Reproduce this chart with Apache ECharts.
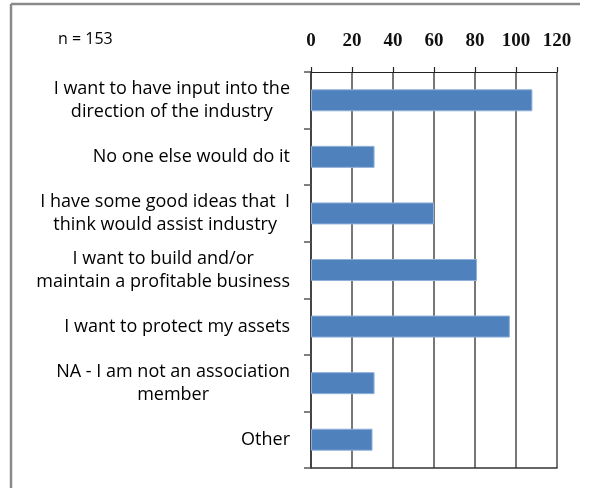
<!DOCTYPE html>
<html>
<head>
<meta charset="utf-8">
<script src="https://cdn.jsdelivr.net/npm/echarts@6/dist/echarts.min.js"></script>
<style>
  html, body { margin: 0; padding: 0; background: #fff; }
  #chart { width: 589px; height: 488px; }
</style>
</head>
<body>
<div id="chart"></div>
<script>
// Reasons given for taking part (count of respondents)
const categories = [
  'I want to have input into the\ndirection of the industry',
  'No one else would do it',
  'I have some good ideas that  I\nthink would assist industry',
  'I want to build and/or\nmaintain a profitable business',
  'I want to protect my assets',
  'NA - I am not an association\nmember',
  'Other'
];
const counts = [108, 31, 60, 81, 97, 31, 30];
const sampleNote = 'n = 153';
const axisMin = 0;
const axisMax = 120;
const axisStep = 20;

const chart = echarts.init(document.getElementById('chart'), null, { renderer: 'canvas' });

const gridColor = '#4a4a4a';
const labelFont = 'Open Sans';

chart.setOption({
  animation: false,
  backgroundColor: '#ffffff',
  grid: { left: 311, top: 72, right: 32, bottom: 20, containLabel: false },
  graphic: [
    // outer frame edges
    { type: 'line', shape: { x1: 11, y1: 4, x2: 580, y2: 4 },
      style: { stroke: '#8a8a8a', lineWidth: 2.5 } },
    { type: 'line', shape: { x1: 11, y1: 4, x2: 11, y2: 488 },
      style: { stroke: '#8a8a8a', lineWidth: 2.5 } },
    { type: 'text', left: 58, top: 31,
      style: { text: sampleNote, font: '16px "Open Sans"', fill: '#000' } }
  ],
  xAxis: [
    {
      type: 'value', position: 'top',
      min: axisMin, max: axisMax, interval: axisStep,
      axisLine: { show: true, lineStyle: { color: '#222', width: 1.2 } },
      axisTick: { show: true, length: 5, lineStyle: { color: '#222', width: 1.2 } },
      axisLabel: { margin: 21, color: '#111', fontFamily: 'Liberation Serif', fontWeight: 'bold', fontSize: 19 },
      splitLine: { show: true, lineStyle: { color: gridColor, width: 1.5 } }
    },
    {
      type: 'value', position: 'bottom',
      min: axisMin, max: axisMax, interval: axisStep,
      axisLine: { show: true, lineStyle: { color: '#333', width: 1.5 } },
      axisTick: { show: false }, axisLabel: { show: false }, splitLine: { show: false }
    }
  ],
  yAxis: {
    type: 'category',
    inverse: true,
    data: categories,
    axisLine: { show: true, lineStyle: { color: '#333', width: 1.5 } },
    axisTick: { show: true, length: 7, lineStyle: { color: '#555', width: 1.5 } },
    axisLabel: {
      margin: 21,
      color: '#000',
      fontFamily: labelFont,
      fontSize: 18,
      lineHeight: 23,
      formatter: function (v) {
        return v.split('\n').map(function (s) { return '{c|' + s + '}'; }).join('\n');
      },
      rich: { c: { align: 'center', fontFamily: labelFont, fontSize: 18, lineHeight: 23, color: '#000' } }
    }
  },
  series: [{
    type: 'bar',
    data: counts,
    barWidth: 22,
    itemStyle: { color: '#4f81bd', borderColor: '#8fb0d9', borderWidth: 1 }
  }]
});
</script>
</body>
</html>
